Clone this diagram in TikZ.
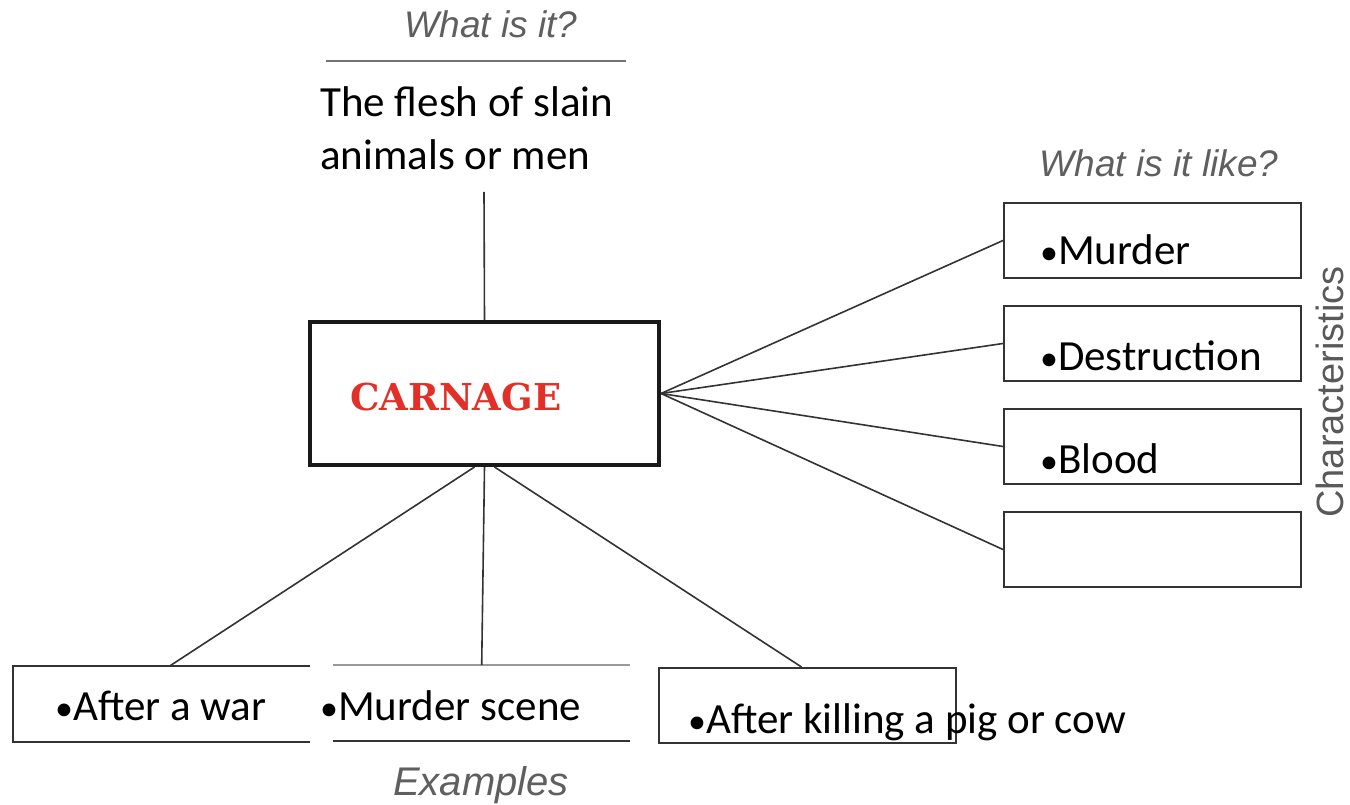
\documentclass[tikz,border=0pt]{standalone}
\usepackage{fontspec}
\setmainfont{Carlito}
\newfontfamily\askfont{Liberation Sans}
\newfontfamily\titlefont{DejaVu Serif}
\usetikzlibrary{positioning}
\definecolor{carnagered}{RGB}{226,48,40}
\definecolor{askgray}{RGB}{95,95,95}
\newcommand{\dotmark}{{\fontsize{36}{36}\selectfont •}}
\tikzset{
	box/.style={draw=black!80, line width=2pt, minimum width=297pt, minimum height=75pt, inner sep=0pt},
	ghostbox/.style={minimum width=297pt, minimum height=76pt, inner sep=0pt},
	link/.style={line width=1.6pt, color=black!80},
	ask/.style={font=\askfont\itshape\fontsize{37}{40}\selectfont, text=askgray, inner sep=0pt, anchor=base},
	item/.style={font=\fontsize{43}{50}\selectfont, inner sep=0pt, anchor=base west},
}

\begin{document}
\begin{tikzpicture}[x=1pt, y=-1pt]
		%%%%% START %%%%%
		
		\fill[white] (0, 0) rectangle (1350, 805);
		\useasboundingbox (0, 0) rectangle (1350, 805);
		
		% what is it
		\node[ask] (whatq) at (491, 38) {What is it?};
		\draw[line width=1.5pt, color=black!55] (326, 61) -- (626, 61);
		\node[item] (flesha) at (320, 117) {The flesh of slain};
		\node[item] (fleshb) at (320, 170) {animals or men};
		\coordinate (stem) at (484, 192);
		
		% the word
		\node[draw=black!90, line width=4pt, minimum width=349pt, minimum height=143pt, anchor=north west] (carnage) at (308, 320) {};
		\node[anchor=base west, inner sep=0pt, font=\titlefont\bfseries\fontsize{37}{40}\selectfont, text=carnagered] (carnagetext) at (350, 410) {CARNAGE};
		\draw[link] (carnage.north) -- (stem);
		
		% what is it like
		\node[ask] (whatlike) at (1159, 177) {What is it like?};
		\node[box, anchor=north west] (murder) at (1003, 202) {};
		\node[box, anchor=north west] (destruction) at (1003, 305) {};
		\node[box, anchor=north west] (blood) at (1003, 408) {};
		\node[box, anchor=north west] (blank) at (1003, 511) {};
		\node[item] (murdertext) at (1040, 265) {\dotmark Murder};
		\node[item] (destructiontext) at (1040, 370) {\dotmark Destruction};
		\node[item] (bloodtext) at (1040, 473) {\dotmark Blood};
		\node[rotate=90, inner sep=0pt, font=\askfont\fontsize{38}{40}\selectfont, text=black!65] (characteristics) at (1330, 392) {Characteristics};
		
		\draw[link] (carnage.east) -- (murder.west);
		\draw[link] (carnage.east) -- (destruction.west);
		\draw[link] (carnage.east) -- (blood.west);
		\draw[link] (carnage.east) -- (blank.west);
		
		% examples
		\node[ghostbox, anchor=north west] (war) at (13, 666) {};
		\draw[line width=2pt, color=black!80] (war.north east) -- (war.north west) -- (war.south west) -- (war.south east);
		\node[ghostbox, anchor=north west] (scene) at (333, 665) {};
		\draw[line width=1.5pt, color=black!40] (scene.north west) -- (scene.north east);
		\draw[line width=2pt, color=black!80] (scene.south west) -- (scene.south east);
		\node[box, anchor=north west] (killing) at (658, 667) {};
		\node[item] (wartext) at (55, 720) {\dotmark After a war};
		\node[item] (scenetext) at (320, 720) {\dotmark Murder scene};
		\node[item] (killingtext) at (688, 733) {\dotmark After killing a pig or cow};
		\node[ask, font=\askfont\itshape\fontsize{40}{44}\selectfont] (examples) at (481, 795) {Examples};
		
		\draw[link] ([xshift=-10pt]carnage.south) -- ([xshift=8pt]war.north);
		\draw[link] (carnage.south) -- (scene.north);
		\draw[link] ([xshift=10pt]carnage.south) -- ([xshift=-6pt]killing.north);
		
		%%%%% END %%%%%
	\end{tikzpicture}
\end{document}
